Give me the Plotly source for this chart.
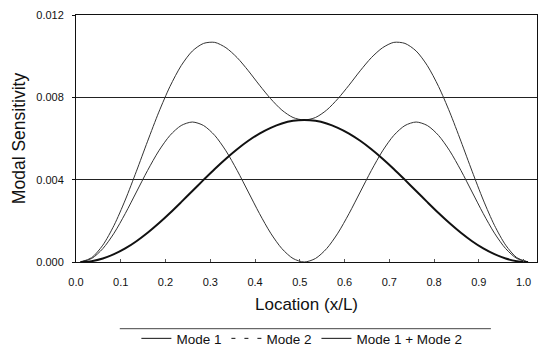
import plotly.graph_objects as go

# Data
location = [0.01, 0.035, 0.06, 0.085, 0.11, 0.135, 0.16, 0.185, 0.21, 0.235, 0.26, 0.285, 0.31, 0.335,
            0.36, 0.385, 0.41, 0.435, 0.46, 0.485, 0.51, 0.535, 0.56, 0.585, 0.61, 0.635, 0.66, 0.685,
            0.71, 0.735, 0.76, 0.785, 0.81, 0.835, 0.86, 0.885, 0.91, 0.935, 0.96, 0.985, 1.01]
mode1 = [0.0, 0.00004, 0.00017, 0.00038, 0.00066, 0.00101, 0.00142, 0.00188, 0.00238, 0.00291,
         0.00345, 0.00399, 0.00452, 0.00502, 0.00548, 0.00589, 0.00624, 0.00652, 0.00673, 0.00686,
         0.00690,
         0.00686, 0.00673, 0.00652, 0.00624, 0.00589, 0.00548, 0.00502, 0.00452, 0.00399, 0.00345,
         0.00291, 0.00238, 0.00188, 0.00142, 0.00101, 0.00066, 0.00038, 0.00017, 0.00004, 0.0]
mode2 = [0.0, 0.00017, 0.00065, 0.00140, 0.00235, 0.00340, 0.00445, 0.00540, 0.00615, 0.00663,
         0.00680, 0.00663, 0.00615, 0.00540, 0.00445, 0.00340, 0.00235, 0.00140, 0.00065, 0.00017,
         0.0,
         0.00017, 0.00065, 0.00140, 0.00235, 0.00340, 0.00445, 0.00540, 0.00615, 0.00663, 0.00680,
         0.00663, 0.00615, 0.00540, 0.00445, 0.00340, 0.00235, 0.00140, 0.00065, 0.00017, 0.0]
mode_sum = [0.0, 0.00021, 0.00082, 0.00178, 0.00301, 0.00441, 0.00587, 0.00728, 0.00853, 0.00954,
            0.01025, 0.01062, 0.01067, 0.01041, 0.00993, 0.00929, 0.00859, 0.00793, 0.00738, 0.00702,
            0.00690,
            0.00702, 0.00738, 0.00793, 0.00859, 0.00929, 0.00993, 0.01041, 0.01067, 0.01062, 0.01025,
            0.00954, 0.00853, 0.00728, 0.00587, 0.00441, 0.00301, 0.00178, 0.00082, 0.00021, 0.0]

x_ticks = [0.0, 0.1, 0.2, 0.3, 0.4, 0.5, 0.6, 0.7, 0.8, 0.9, 1.0]
x_tick_labels = ["0.0", "0.1", "0.2", "0.3", "0.4", "0.5", "0.6", "0.7", "0.8", "0.9", "1.0"]
y_ticks = [0.0, 0.004, 0.008, 0.012]
y_tick_labels = ["0.000", "0.004", "0.008", "0.012"]

FONT = "Liberation Sans, Arial, sans-serif"

fig = go.Figure()
line_shape = dict(shape="spline", smoothing=0.8)

fig.add_trace(go.Scatter(x=location, y=mode2, mode="lines", showlegend=False,
                         line=dict(color="#333333", width=1, **line_shape)))
fig.add_trace(go.Scatter(x=location, y=mode_sum, mode="lines", showlegend=False,
                         line=dict(color="#333333", width=1, **line_shape)))
fig.add_trace(go.Scatter(x=location, y=mode1, mode="lines", showlegend=False,
                         line=dict(color="#111111", width=2, **line_shape)))

# legend entries
fig.add_trace(go.Scatter(x=[None], y=[None], mode="lines", name="Mode 1",
                         line=dict(color="#111111", width=1)))
fig.add_trace(go.Scatter(x=[None], y=[None], mode="lines", name="Mode 2",
                         line=dict(color="#111111", width=1, dash="4px,9px")))
fig.add_trace(go.Scatter(x=[None], y=[None], mode="lines", name="Mode 1 + Mode 2",
                         line=dict(color="#111111", width=1)))

fig.update_layout(
    width=539, height=351,
    margin=dict(l=76, r=2, t=15, b=89, autoexpand=False),
    paper_bgcolor="white", plot_bgcolor="white",
    font=dict(family=FONT, color="#111111", size=11),
    legend=dict(orientation="h", x=0.49, xanchor="center", y=-0.31, yanchor="middle",
                font=dict(size=13.5), itemwidth=30, tracegroupgap=0,
                bgcolor="rgba(0,0,0,0)"),
    shapes=[dict(type="line", xref="paper", yref="paper", x0=0.095, x1=0.9,
                 y0=-0.27, y1=-0.27, line=dict(color="#444444", width=1))],
)

fig.update_xaxes(
    range=[0, 1.03], tickvals=x_ticks, ticktext=x_tick_labels,
    showgrid=False, zeroline=False, automargin=False,
    showline=True, mirror=True, linecolor="#111111", linewidth=1,
    ticks="inside", ticklen=3, tickcolor="#555555",
    ticklabelstandoff=10,
    title=dict(text="Location (x/L)", font=dict(size=17), standoff=10),
    tickfont=dict(size=11),
)
fig.update_yaxes(
    range=[0, 0.012], tickvals=y_ticks, ticktext=y_tick_labels,
    showgrid=True, gridcolor="#222222", gridwidth=1, zeroline=False, automargin=False,
    showline=True, mirror=True, linecolor="#111111", linewidth=1,
    ticks="outside", ticklen=3, tickcolor="#111111",
    ticklabelstandoff=6,
    title=dict(text="Modal Sensitivity", font=dict(size=17.5), standoff=6),
    tickfont=dict(size=11),
)

fig.write_html("out.html")
